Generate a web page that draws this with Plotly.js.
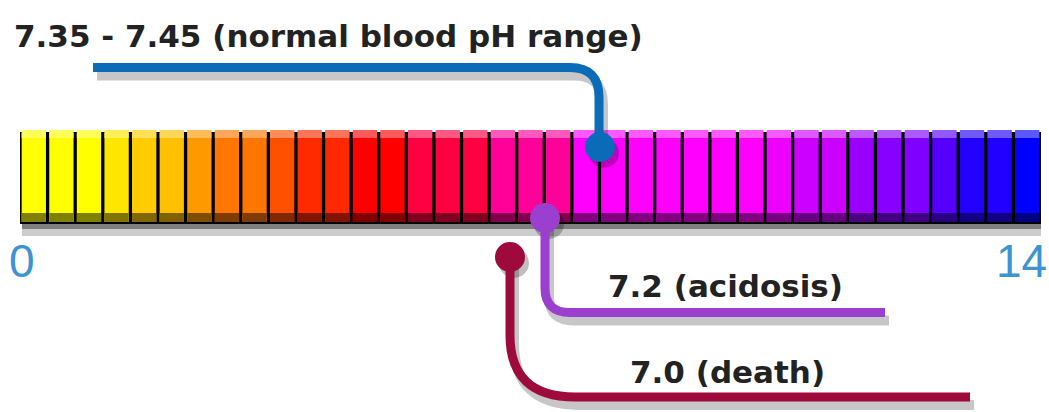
<!DOCTYPE html>
<html>
<head>
<meta charset="utf-8">
<script src="https://cdn.plot.ly/plotly-3.0.1.min.js"></script>
<style>html,body{margin:0;padding:0;background:#fff;}#chart{width:1049px;height:412px;}</style>
</head>
<body>
<div id="chart"></div>
<script>
// ---- data ----
const segmentIndex = [0,1,2,3,4,5,6,7,8,9,10,11,12,13,14,15,16,17,18,19,20,21,22,23,24,25,26,27,28,29,30,31,32,33,34,35,36];
const segmentColors = [
  '#FFFF00','#FFFF00','#FFFF00','#FFE600','#FFCC00','#FFC000','#FF9900','#FF7700','#FF7700','#FF5000',
  '#FF2A00','#FF2800','#FF0000','#FF0000','#FF0040','#FF0040','#FF0040','#FF0099','#FF0099','#FF0099',
  '#FF00FF','#FF00FF','#FF00FF','#FF00FF','#FF00FF','#FF00FF','#FF00FF','#EE00FF','#CC00FF','#CC00FF',
  '#9900FF','#8800FF','#8000FF','#5500FF','#2200FF','#2200FF','#0000FF'
];
const tickLabels = ['0', '14'];
const calloutLabels = ['7.35 - 7.45 (normal blood pH range)', '7.2 (acidosis)', '7.0 (death)'];
const calloutColors = ['#0A6BB8', '#9B3FCF', '#9E0A3C'];

// ---- layout helpers (pixel geometry of the schematic) ----
const W = 1049, H = 412, L = 20, R = 8;
const plotW = W - L - R;
const n = segmentIndex.length;
function px(p) { return -0.5 + (p - L) / plotW * n; }
function pp(p) { return (p - L) / plotW; }   // paper x
function py(p) { return 1 - p / H; }         // paper y

function mix(hex, target, t) {
  const c = [1,3,5].map(i => parseInt(hex.substr(i,2),16));
  const m = c.map(v => Math.round(v + (target - v) * t));
  return 'rgb(' + m.join(',') + ')';
}

const barTop = 130, barBottom = 222;
const traces = [
  { type:'bar', x:segmentIndex, y:segmentIndex.map(() => barBottom - barTop - 3), base:barTop + 3, width:0.88,
    marker:{color:segmentColors, line:{width:0}}, hoverinfo:'skip', showlegend:false },
  { type:'bar', x:segmentIndex, y:segmentIndex.map(() => 8), base:barTop, width:0.88,
    marker:{color:segmentColors.map(c => mix(c,255,0.35)), line:{width:0}}, hoverinfo:'skip', showlegend:false },
  { type:'bar', x:segmentIndex, y:segmentIndex.map(() => 9), base:barBottom - 9, width:0.88,
    marker:{color:segmentColors.map(c => mix(c,0,0.5)), line:{width:0}}, hoverinfo:'skip', showlegend:false }
];

function path(d, color, width, dx, dy) {
  let s = '';
  d.forEach(seg => {
    s += seg[0] + ' ';
    for (let i = 1; i < seg.length; i += 2) {
      s += px(seg[i] + dx) + ',' + (seg[i+1] + dy) + ' ';
    }
  });
  return { type:'path', xref:'x', yref:'y', path:s, line:{color:color, width:width}, layer:'above' };
}
function dot(cx, cy, r, color, dx, dy) {
  return { type:'circle', xref:'x', yref:'y', x0:px(cx - r + dx), x1:px(cx + r + dx), y0:cy - r + dy, y1:cy + r + dy,
    fillcolor:color, line:{width:0}, layer:'above' };
}

const calloutPaths = [
  [['M',93,67.5],['L',570,67.5],['Q',599,67.5,599,97],['L',599,147]],
  [['M',545,218],['L',545,288],['Q',545,312.5,570,312.5],['L',885,312.5]],
  [['M',510,257],['L',510,335],['Q',510,397,575,397],['L',970,397]]
];
const dots = [[600,147],[545,218],[510,257]];

const shapes = [
  { type:'rect', xref:'x', yref:'y', x0:px(19), x1:px(1043), y0:barTop + 2, y1:barBottom + 2, fillcolor:'#000', line:{width:0}, layer:'below' },
  { type:'rect', xref:'x', yref:'y', x0:px(22), x1:px(1045), y0:barBottom + 2, y1:barBottom + 7, fillcolor:'rgba(0,0,0,0.5)', line:{width:0}, layer:'below' },
  { type:'rect', xref:'x', yref:'y', x0:px(22), x1:px(1045), y0:barBottom + 7, y1:barBottom + 14, fillcolor:'rgba(0,0,0,0.2)', line:{width:0}, layer:'below' }
];
calloutPaths.forEach(p => { shapes.push(path(p, 'rgba(0,0,0,0.22)', 10, 4, 8)); });
dots.forEach(d => { shapes.push(dot(d[0], d[1], 15, 'rgba(0,0,0,0.25)', 4, 6)); });
calloutPaths.forEach((p, i) => { shapes.push(path(p, calloutColors[i], 9, 0, 0)); });
dots.forEach((d, i) => { shapes.push(dot(d[0], d[1], 15, calloutColors[i], 0, 0)); });

const labelFont = { family:'DejaVu Sans', size:31, color:'#222' };
const tickFont = { family:'Liberation Sans', size:46, color:'#3E93D3' };
const annotations = [
  { xref:'paper', yref:'paper', x:pp(12), y:py(36), text:'<b>' + calloutLabels[0] + '</b>', showarrow:false, xanchor:'left', yanchor:'middle', font:labelFont },
  { xref:'paper', yref:'paper', x:pp(606), y:py(286), text:'<b>' + calloutLabels[1] + '</b>', showarrow:false, xanchor:'left', yanchor:'middle', font:labelFont },
  { xref:'paper', yref:'paper', x:pp(628), y:py(372), text:'<b>' + calloutLabels[2] + '</b>', showarrow:false, xanchor:'left', yanchor:'middle', font:labelFont },
  { xref:'paper', yref:'paper', x:pp(22), y:py(261), text:tickLabels[0], showarrow:false, xanchor:'center', yanchor:'middle', font:tickFont },
  { xref:'paper', yref:'paper', x:pp(1049), y:py(261), text:tickLabels[1], showarrow:false, xanchor:'right', yanchor:'middle', font:tickFont }
];

const layout = {
  width:W, height:H,
  margin:{l:L, r:R, t:0, b:0, pad:0},
  paper_bgcolor:'#fff', plot_bgcolor:'#fff',
  barmode:'overlay',
  showlegend:false,
  xaxis:{range:[-0.5, n - 0.5], visible:false, fixedrange:true},
  yaxis:{range:[H, 0], visible:false, fixedrange:true},
  shapes:shapes,
  annotations:annotations
};

Plotly.newPlot('chart', traces, layout, {displayModeBar:false, staticPlot:true});
</script>
</body>
</html>
